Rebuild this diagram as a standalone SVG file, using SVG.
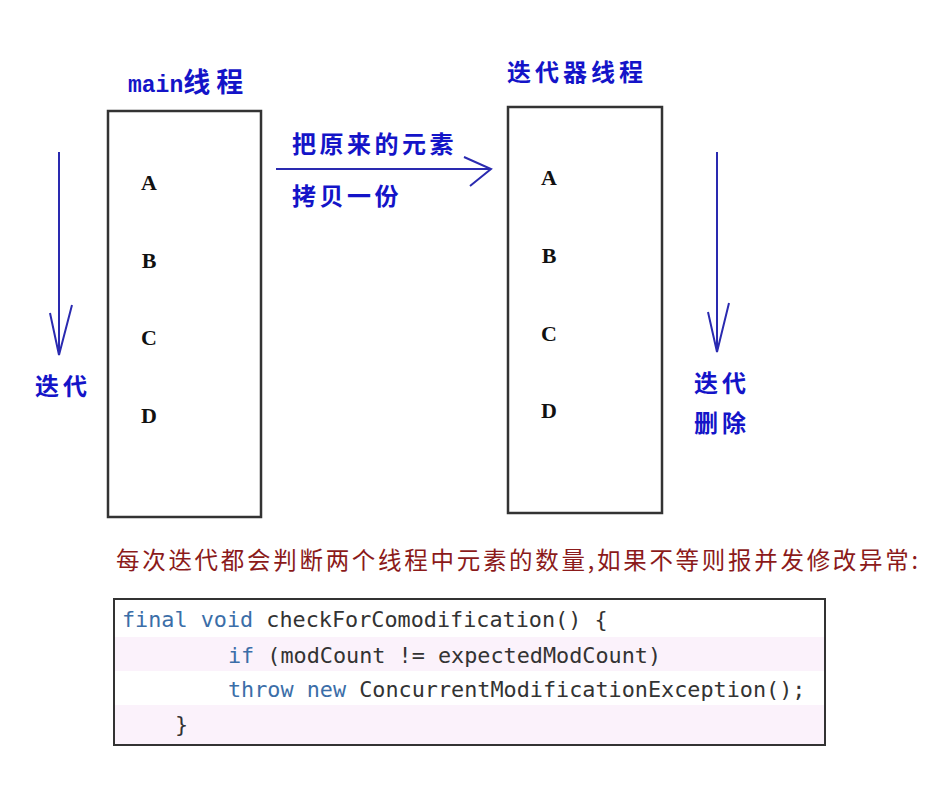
<svg xmlns="http://www.w3.org/2000/svg" width="942" height="790" viewBox="0 0 942 790">
<defs>
<style>
.box{fill:#fff;stroke:#333;stroke-width:2.5}
.blue{fill:#1414c8;font-family:"Noto Sans CJK SC","Noto Sans",sans-serif;font-weight:bold;font-size:24px}
.mono{font-family:"Liberation Mono","DejaVu Sans Mono",monospace}
.letter{font-family:"Liberation Serif",serif;font-weight:bold;font-size:22px;fill:#111;text-anchor:middle}
.ln{stroke:#2a2ab0;stroke-width:2;fill:none}
.code{font-family:"DejaVu Sans Mono","Liberation Mono",monospace;font-size:21.8px;fill:#333}
.kw{fill:#3b6ea8}
.red{fill:#8b1a1a;font-family:"Noto Sans CJK SC",sans-serif;font-size:23.5px}
</style>
</defs>
<rect width="942" height="790" fill="#fff"/>
<g id="main-thread">
<rect class="box" x="108" y="111" width="153" height="406"/>
<text x="128" y="92" class="blue"><tspan class="mono" font-size="23">main</tspan><tspan font-size="27" letter-spacing="6">线程</tspan></text>
<text class="letter" x="149" y="190">A</text>
<text class="letter" x="149" y="268">B</text>
<text class="letter" x="149" y="345">C</text>
<text class="letter" x="149" y="423">D</text>
</g>
<g id="iterator-thread">
<rect class="box" x="508" y="107" width="154" height="406"/>
<text x="507" y="81" class="blue" font-size="26" letter-spacing="4">迭代器线程</text>
<text class="letter" x="549" y="185">A</text>
<text class="letter" x="549" y="263">B</text>
<text class="letter" x="549" y="341">C</text>
<text class="letter" x="549" y="418">D</text>
</g>
<g id="connectors">
<line class="ln" x1="276" y1="169" x2="491" y2="169"/>
<polyline class="ln" points="464,157 491,169 470,186"/>
<line class="ln" x1="59" y1="152" x2="59" y2="355"/>
<polyline class="ln" points="50,313 59,355 72,305"/>
<line class="ln" x1="717" y1="152" x2="717" y2="352"/>
<polyline class="ln" points="708,312 717,352 729,303"/>
</g>
<g id="labels">
<text x="292" y="153" class="blue" font-size="25.5" letter-spacing="3.5">把原来的元素</text>
<text x="292" y="205" class="blue" font-size="25.5" letter-spacing="3.5">拷贝一份</text>
<text x="35" y="395" class="blue" letter-spacing="4">迭代</text>
<text x="694" y="392" class="blue" letter-spacing="4">迭代</text>
<text x="694" y="432" class="blue" letter-spacing="4">删除</text>
</g>
<g id="note">
<text x="116" y="569" class="red" textLength="802">每次迭代都会判断两个线程中元素的数量,如果不等则报并发修改异常:</text>
</g>
<g id="code">
<rect x="114" y="599" width="711" height="146" fill="#fff"/>
<rect x="115" y="637" width="709" height="34" fill="#fbf2fb"/>
<rect x="115" y="705" width="709" height="39" fill="#fbf2fb"/>
<rect x="114" y="599" width="711" height="146" fill="none" stroke="#333" stroke-width="2"/>
<text class="code" x="122" y="627"><tspan class="kw">final void</tspan> checkForComodification() {</text>
<text class="code" x="228" y="663"><tspan class="kw">if</tspan> (modCount != expectedModCount)</text>
<text class="code" x="228" y="697"><tspan class="kw">throw new</tspan> ConcurrentModificationException();</text>
<text class="code" x="175" y="732">}</text>
</g>
</svg>
